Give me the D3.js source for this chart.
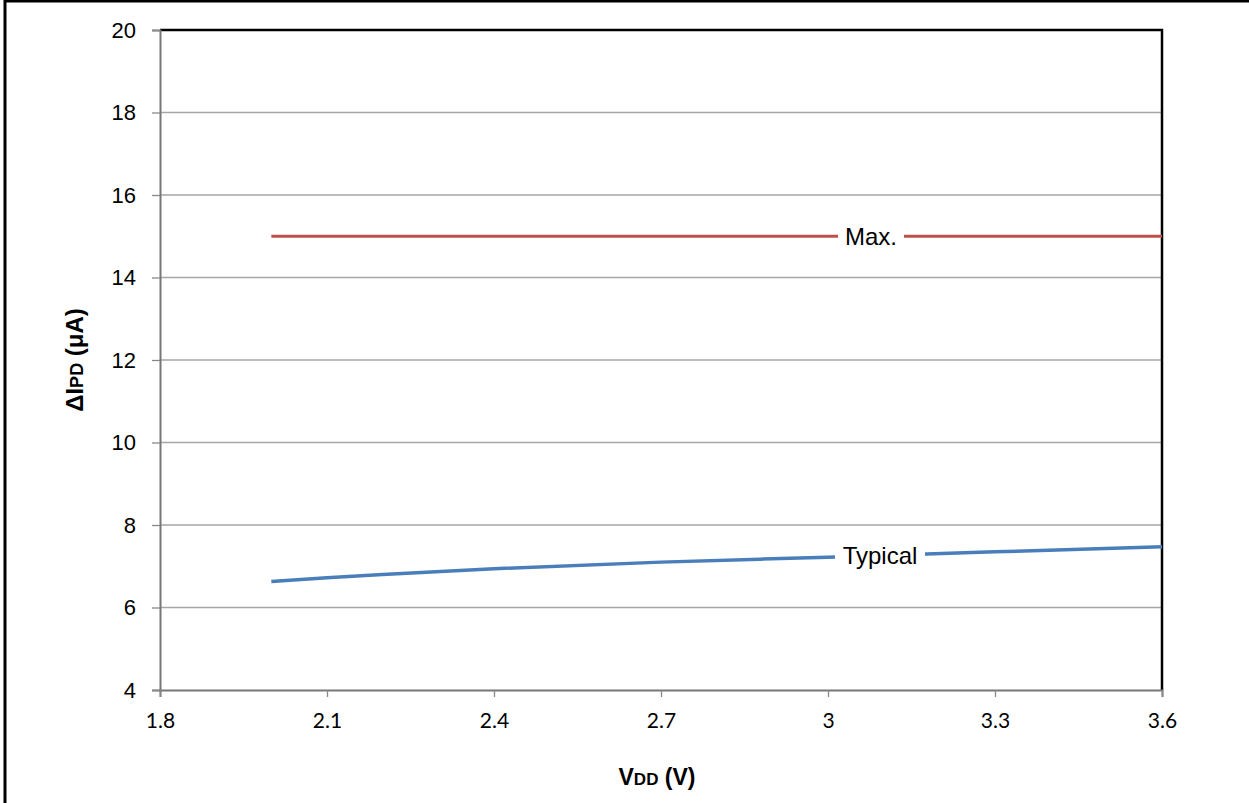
<!DOCTYPE html>
<html>
<head>
<meta charset="utf-8">
<script src="https://cdn.jsdelivr.net/npm/d3@7"></script>
<style>
  body { margin: 0; background: #fff; }
  svg text { fill: #000; }
</style>
</head>
<body>
<div id="content"></div>
<script>
const w = 1249
const h = 803

// data
const vdd = [2.0, 2.1, 2.2, 2.4, 2.7, 3.0, 3.3, 3.6]
const typical = [6.63, 6.72, 6.8, 6.94, 7.1, 7.22, 7.35, 7.47]
const maxVals = [15, 15, 15, 15, 15, 15, 15, 15]
const xTicks = [1.8, 2.1, 2.4, 2.7, 3, 3.3, 3.6]
const yTicks = [4, 6, 8, 10, 12, 14, 16, 18, 20]

const plotL = 160, plotR = 1162, plotT = 30, plotB = 690

let svg = d3.select("#content")
  .append("svg")
  .attr("width", w)
  .attr("height", h)

// outer frame
svg.append("rect")
  .attr("x", 5).attr("y", 1)
  .attr("width", 1260).attr("height", 820)
  .attr("fill", "none").attr("stroke", "#000").attr("stroke-width", 3)

let x = d3.scaleLinear().domain([1.8, 3.6]).range([plotL, plotR])
let y = d3.scaleLinear().domain([4, 20]).range([plotB, plotT])

// gridlines
svg.append("g")
  .selectAll("line")
  .data(yTicks.slice(1, -1))
  .enter()
  .append("line")
    .attr("x1", plotL).attr("x2", plotR)
    .attr("y1", d => y(d)).attr("y2", d => y(d))
    .attr("stroke", "#a6a6a6")
    .attr("stroke-width", 1.5)

// top and right border
svg.append("path")
  .attr("d", "M" + plotL + "," + plotT + "H" + plotR + "V" + plotB)
  .attr("fill", "none")
  .attr("stroke", "#000")
  .attr("stroke-width", 2.5)

// y axis
let yAxis = svg.append("g")
  .attr("transform", "translate(" + plotL + ",0)")
  .call(d3.axisLeft(y).tickValues(yTicks).tickSize(8).tickPadding(16))
yAxis.select(".domain").attr("stroke", "#777").attr("stroke-width", 2)
yAxis.selectAll(".tick line").attr("stroke", "#888").attr("stroke-width", 1.3)
yAxis.selectAll("text")
  .attr("font-family", "Liberation Sans, Arial, sans-serif")
  .attr("font-size", 22)
  .attr("fill", "#000")

// x axis
let xAxis = svg.append("g")
  .attr("transform", "translate(0," + plotB + ")")
  .call(d3.axisBottom(x).tickValues(xTicks).tickFormat(d3.format("")).tickSize(7).tickPadding(16))
xAxis.select(".domain").attr("stroke", "#777").attr("stroke-width", 2)
xAxis.selectAll(".tick line").attr("stroke", "#888").attr("stroke-width", 1.3)
xAxis.selectAll("text")
  .attr("font-family", "Lato, Open Sans, sans-serif")
  .attr("font-size", 21)
  .attr("fill", "#000")

let line = d3.line()
  .x((d, i) => x(vdd[i]))
  .y(d => y(d))
  .curve(d3.curveMonotoneX)

svg.append("path")
  .datum(maxVals)
  .attr("d", line)
  .attr("fill", "none")
  .attr("stroke", "#c0504d")
  .attr("stroke-width", 3)

svg.append("path")
  .datum(typical)
  .attr("d", line)
  .attr("fill", "none")
  .attr("stroke", "#4a7ebb")
  .attr("stroke-width", 3.5)

// series labels with white backing
function label(txt, cx, cy, pw) {
  svg.append("rect")
    .attr("x", cx - pw / 2).attr("y", cy - 14)
    .attr("width", pw).attr("height", 28)
    .attr("fill", "#fff")
  svg.append("text")
    .attr("x", cx).attr("y", cy)
    .attr("dy", "0.35em")
    .attr("text-anchor", "middle")
    .attr("font-family", "Liberation Sans, Arial, sans-serif")
    .attr("font-size", 24)
    .text(txt)
}
label("Max.", 871, y(15), 66)
label("Typical", 880, y(7.25), 90)

// axis titles
let xt = svg.append("text")
  .attr("x", 657).attr("y", 785)
  .attr("text-anchor", "middle")
  .attr("font-family", "Liberation Sans, Arial, sans-serif")
  .attr("font-weight", "bold")
  .attr("font-size", 23)
xt.append("tspan").text("V")
xt.append("tspan").attr("font-size", 17).text("DD")
xt.append("tspan").text(" (V)")

let yt = svg.append("text")
  .attr("transform", "translate(83,360) rotate(-90)")
  .attr("text-anchor", "middle")
  .attr("font-family", "Liberation Sans, Arial, sans-serif")
  .attr("font-weight", "bold")
  .attr("font-size", 24)
yt.append("tspan").text("ΔI")
yt.append("tspan").attr("font-size", 18).text("PD")
yt.append("tspan").text(" (μA)")
</script>
</body>
</html>
